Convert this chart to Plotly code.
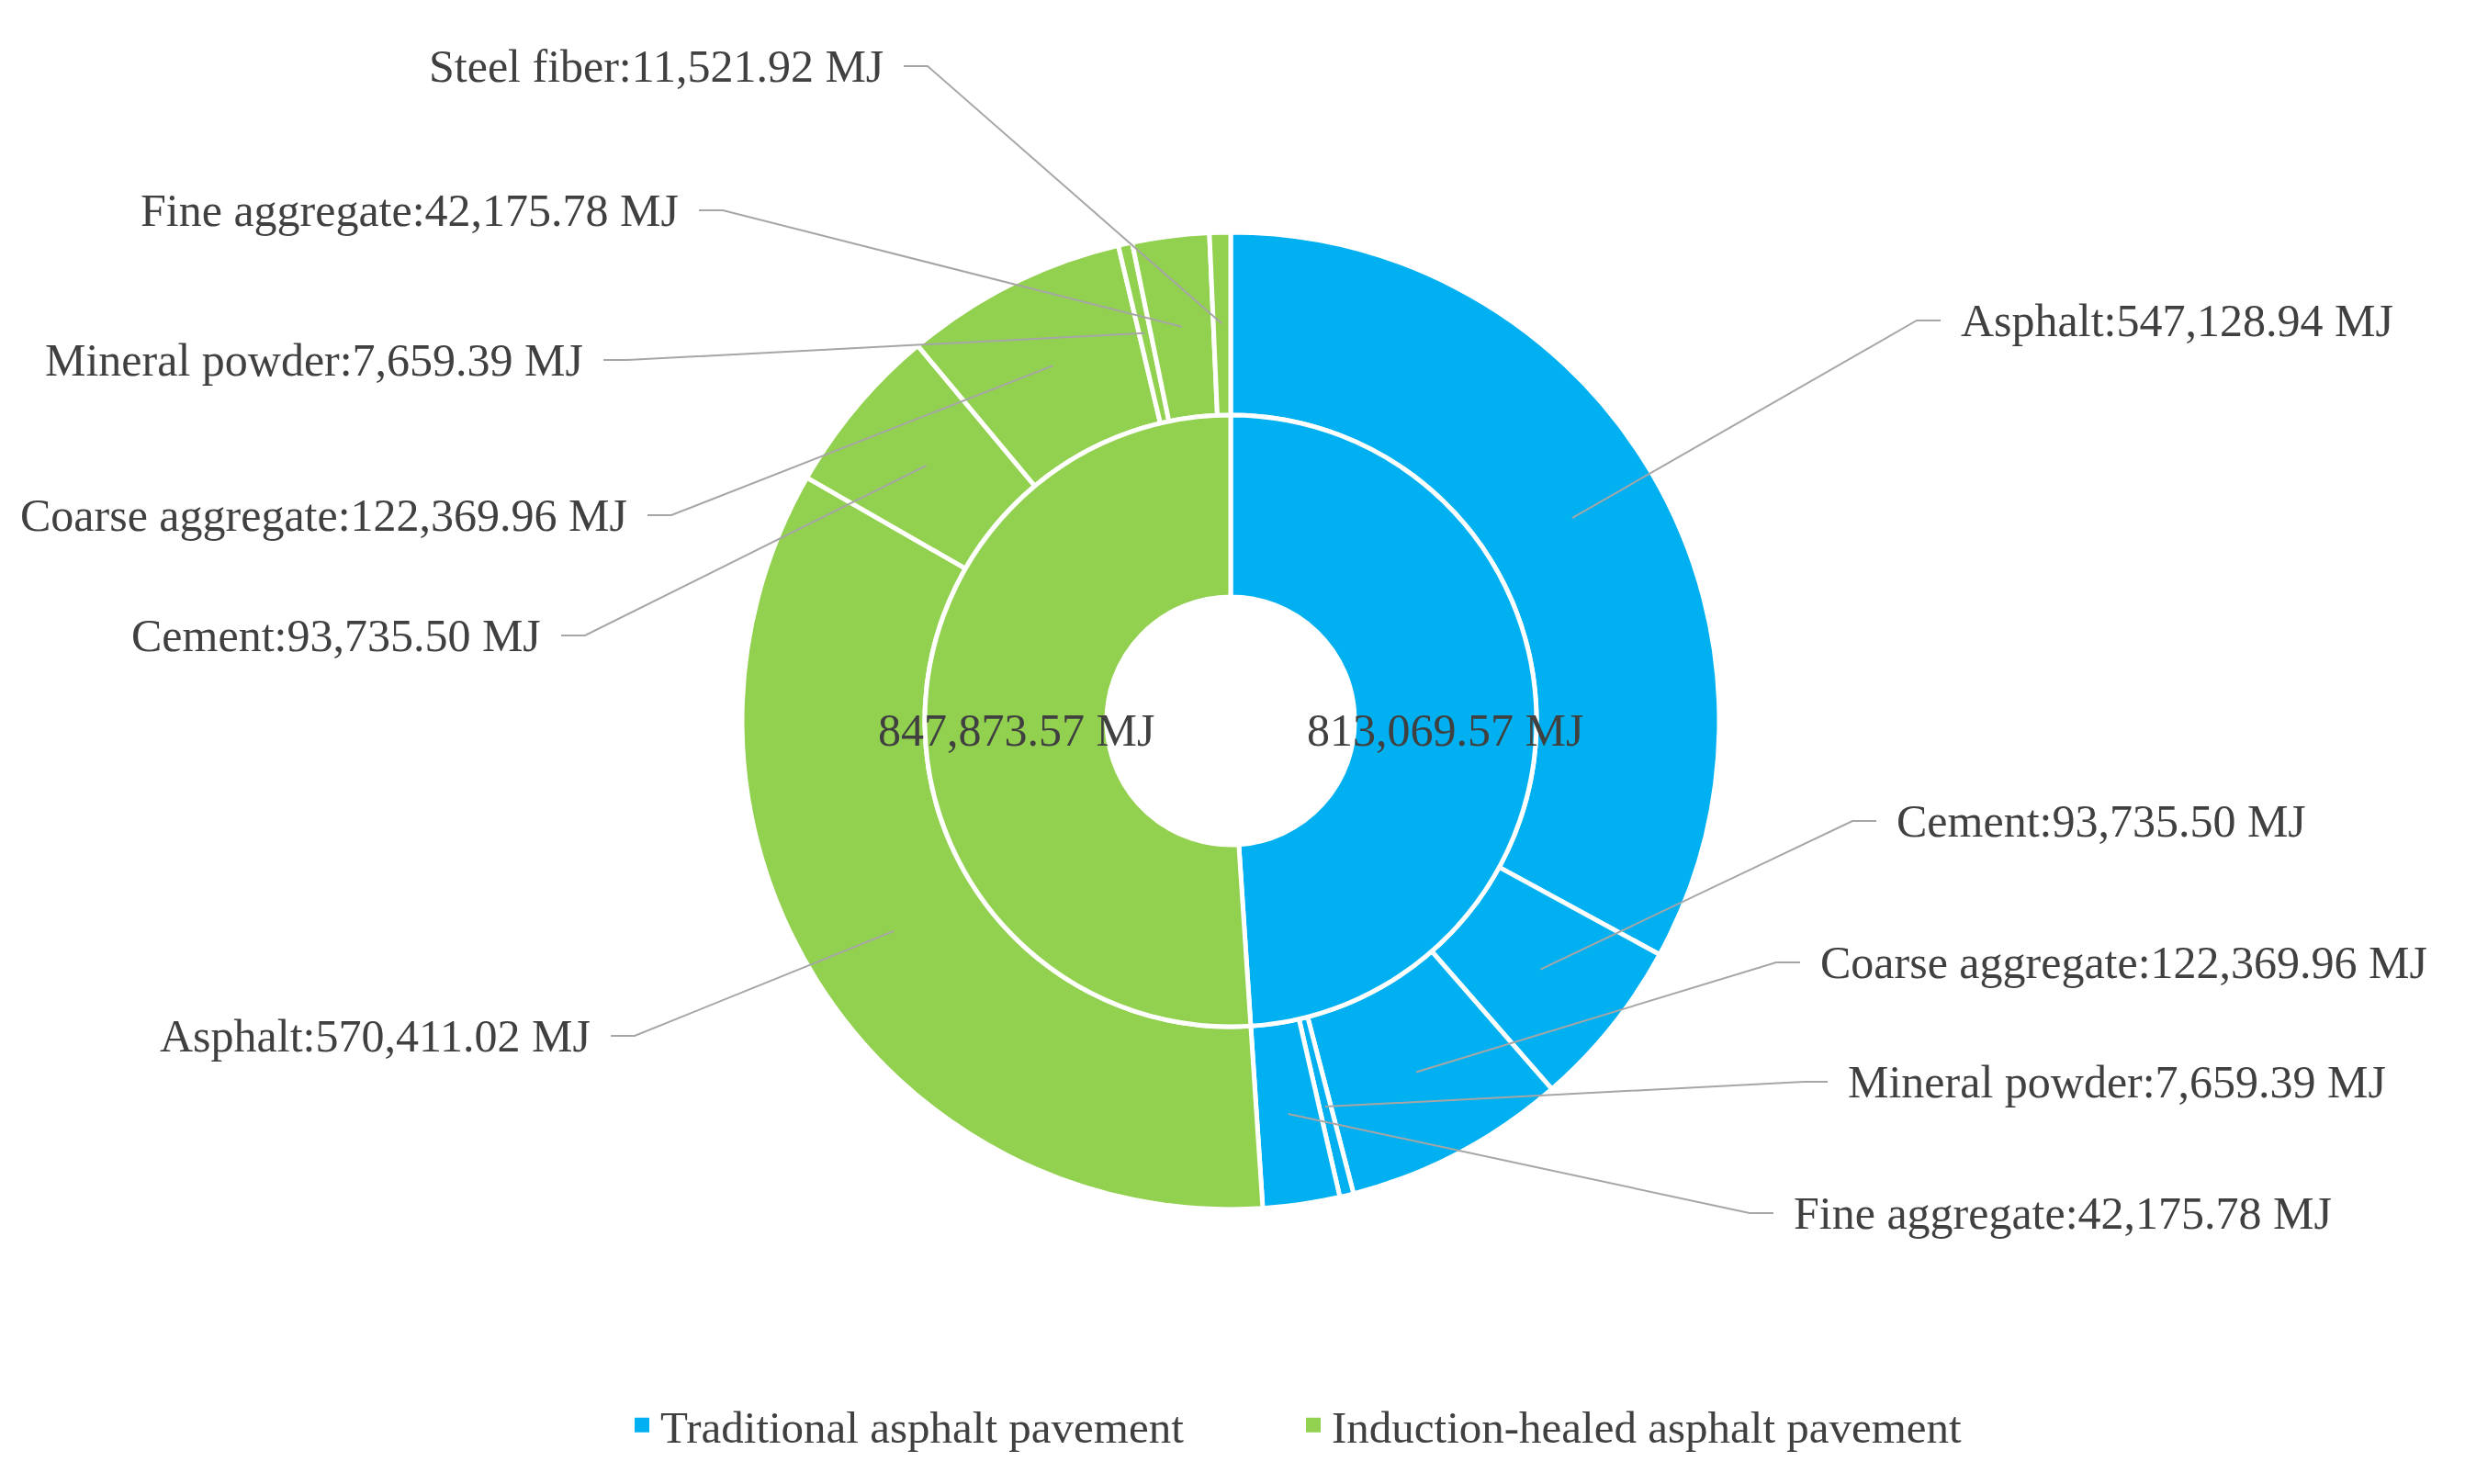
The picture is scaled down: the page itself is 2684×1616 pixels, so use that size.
import numpy as np
import plotly.graph_objects as go

# inner ring: pavement types
pavements = ["Traditional asphalt pavement", "Induction-healed asphalt pavement"]
pavement_colors = ["#00B0F0", "#92D050"]

# outer ring: material embodied energy (MJ)
trad_materials = ["Asphalt", "Cement", "Coarse aggregate", "Mineral powder", "Fine aggregate"]
trad_energy = [547128.94, 93735.50, 122369.96, 7659.39, 42175.78]

ind_materials = ["Asphalt", "Cement", "Coarse aggregate", "Mineral powder", "Fine aggregate", "Steel fiber"]
ind_energy = [570411.02, 93735.50, 122369.96, 7659.39, 42175.78, 11521.92]

pavement_totals = [sum(trad_energy), sum(ind_energy)]

# page geometry (px); the html body adds an 8px margin around the figure
PAGE_OFF = 8
W, H = 2684 - 2 * PAGE_OFF, 1616 - 2 * PAGE_OFF
CX, CY = 1340, 785
R_OUT, R_MID, R_HOLE = 532, 333, 135

# where the outer labels sit (page px, text edge nearest the pie)
trad_label_pos = [(2133, 349), (2063, 894), (1980, 1048), (2010, 1178), (1951, 1321)]
ind_label_pos = [(645, 1128), (591, 692), (685, 561), (637, 392), (741, 229), (964, 72)]

FONT = "Times New Roman, Liberation Serif, serif"
TEXT_COLOR = "#404040"
LINE_COLOR = "#A6A6A6"


def to_paper(x, y):
    return (x - PAGE_OFF) / W, 1 - (y - PAGE_OFF) / H


def domain(r):
    x0, y1 = to_paper(CX - r, CY - r)
    x1, y0 = to_paper(CX + r, CY + r)
    return dict(x=[x0, x1], y=[y0, y1])


def mid_angles(values):
    total = float(sum(pavement_totals))
    cum = np.cumsum([0] + list(values))
    return [(cum[i] + values[i] / 2) / total * 2 * np.pi for i in range(len(values))]


def polar_px(theta, r):
    return CX + r * np.sin(theta), CY - r * np.cos(theta)


outer_values = trad_energy + ind_energy
outer_labels = [f"{pavements[0]} - {m}" for m in trad_materials] + [f"{pavements[1]} - {m}" for m in ind_materials]
outer_colors = [pavement_colors[0]] * len(trad_energy) + [pavement_colors[1]] * len(ind_energy)

fig = go.Figure()
fig.add_trace(
    go.Pie(
        labels=outer_labels,
        values=outer_values,
        sort=False,
        direction="clockwise",
        hole=R_MID / R_OUT,
        domain=domain(R_OUT),
        marker=dict(colors=outer_colors, line=dict(color="white", width=5)),
        textinfo="none",
        showlegend=False,
    )
)
fig.add_trace(
    go.Pie(
        labels=pavements,
        values=pavement_totals,
        sort=False,
        direction="clockwise",
        hole=R_HOLE / R_MID,
        domain=domain(R_MID),
        marker=dict(colors=pavement_colors, line=dict(color="white", width=5)),
        textinfo="none",
        showlegend=False,
    )
)
# legend entries (square swatches)
for name, color in zip(pavements, pavement_colors):
    fig.add_trace(
        go.Scatter(x=[None], y=[None], mode="markers", name=name,
                   marker=dict(symbol="square", size=16, color=color))
    )

annotations = []
shapes = []

# totals in the inner ring
for theta, total in zip(mid_angles(pavement_totals), pavement_totals):
    px, _ = polar_px(theta, (R_HOLE + R_MID) / 2)
    x, y = to_paper(px, CY + 10)
    annotations.append(
        dict(x=x, y=y, xref="paper", yref="paper", text=f"{total:,.2f} MJ", showarrow=False,
             font=dict(family=FONT, size=50, color=TEXT_COLOR), xanchor="center", yanchor="middle")
    )

# outer labels with leader lines
all_materials = trad_materials + ind_materials
all_pos = trad_label_pos + ind_label_pos
for theta, name, val, (tx, ty) in zip(mid_angles(outer_values), all_materials, outer_values, all_pos):
    px, py = polar_px(theta, (R_MID + R_OUT) / 2)
    right = tx > CX
    sgn = -1 if right else 1
    ex, fx = tx + sgn * 46, tx + sgn * 20
    pts = [to_paper(px, py), to_paper(ex, ty), to_paper(fx, ty)]
    path = "M {} {} L {} {} L {} {}".format(*[c for p in pts for c in p])
    shapes.append(dict(type="path", path=path, xref="paper", yref="paper", line=dict(color=LINE_COLOR, width=2)))
    x, y = to_paper(tx, ty)
    annotations.append(
        dict(x=x, y=y, xref="paper", yref="paper", text=f"{name}:{val:,.2f} MJ", showarrow=False,
             font=dict(family=FONT, size=50, color=TEXT_COLOR),
             xanchor="left" if right else "right", yanchor="middle")
    )

lx, ly = to_paper(679, 1552)
fig.update_layout(
    width=W,
    height=H,
    margin=dict(l=0, r=0, t=0, b=0),
    paper_bgcolor="white",
    plot_bgcolor="white",
    xaxis=dict(visible=False),
    yaxis=dict(visible=False),
    annotations=annotations,
    shapes=shapes,
    legend=dict(
        orientation="h",
        x=lx,
        xanchor="left",
        y=ly,
        yanchor="middle",
        font=dict(family=FONT, size=49, color=TEXT_COLOR),
        entrywidth=686,
        entrywidthmode="pixels",
    ),
)

fig.write_html("out.html")
